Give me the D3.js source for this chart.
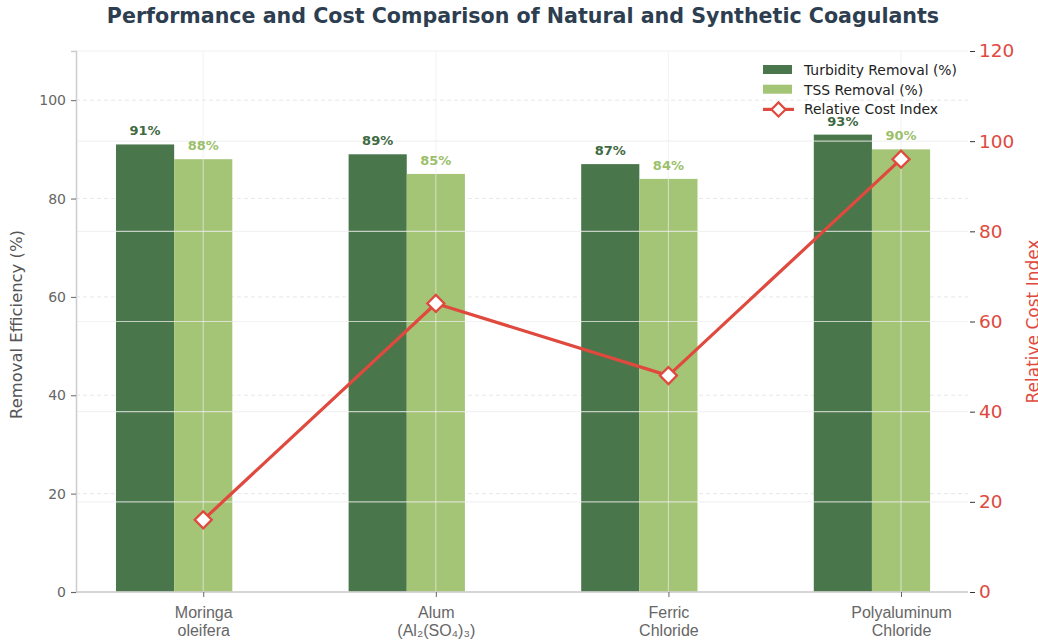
<!DOCTYPE html>
<html>
<head>
<meta charset="utf-8">
<script src="https://cdn.jsdelivr.net/npm/d3@7"></script>
<style>
  html, body { margin: 0; padding: 0; background: #fff; }
  svg { display: block; font-family: "DejaVu Sans", sans-serif; }
</style>
</head>
<body>
<svg id="chart" width="1038" height="641"></svg>
<script>
// Coagulant categories (two-line tick labels)
const categories = [
  ["Moringa", "oleifera"],
  ["Alum", "(Al\u2082(SO\u2084)\u2083)"],
  ["Ferric", "Chloride"],
  ["Polyaluminum", "Chloride"]
];
const turbidityRemoval = [91, 89, 87, 93];
const tssRemoval = [88, 85, 84, 90];
const costIndex = [16, 64, 48, 96];
const leftTicks = [0, 20, 40, 60, 80, 100];
const rightTicks = [0, 20, 40, 60, 80, 100, 120];
const seriesNames = ["Turbidity Removal (%)", "TSS Removal (%)", "Relative Cost Index"];

const W = 1038, H = 641;
const m = { left: 76, right: 70, top: 51, bottom: 49 };
const plotW = W - m.left - m.right, plotH = H - m.top - m.bottom;

const colTurb = "#4a764c", colTss = "#a4c476";
const labTurb = "#3f6a42", labTss = "#9cbf6c";
const colCost = "#e0493d";

const svg = d3.select("#chart");
const g = svg.append("g").attr("transform", `translate(${m.left},${m.top})`);

// category index -> pixel (ticks sit at the centre of the TSS bar)
const x = d3.scaleLinear().domain([-0.547, 3.288]).range([0, plotW]);
const barW = x(0.25) - x(0);
const yL = d3.scaleLinear().domain([0, 110]).range([plotH, 0]);
const yR = d3.scaleLinear().domain([0, 120]).range([plotH, 0]);
const idx = categories.map((_, i) => i);

// dashed horizontal grid of the left axis (behind bars)
g.append("g").selectAll("line").data(leftTicks).join("line")
  .attr("x1", 0).attr("x2", plotW)
  .attr("y1", d => yL(d)).attr("y2", d => yL(d))
  .attr("stroke", "#dcdcdc").attr("stroke-width", 0.8)
  .attr("stroke-dasharray", "4,3").attr("opacity", 0.8);

// bars
g.append("g").selectAll("rect").data(turbidityRemoval).join("rect")
  .attr("x", (d, i) => x(i) - 1.5 * barW).attr("width", barW)
  .attr("y", d => yL(d)).attr("height", d => plotH - yL(d))
  .attr("fill", colTurb);
g.append("g").selectAll("rect").data(tssRemoval).join("rect")
  .attr("x", (d, i) => x(i) - 0.5 * barW).attr("width", barW)
  .attr("y", d => yL(d)).attr("height", d => plotH - yL(d))
  .attr("fill", colTss);

// right-axis solid grid (drawn over bars, faint)
g.append("g").selectAll("line").data(rightTicks).join("line")
  .attr("x1", 0).attr("x2", plotW)
  .attr("y1", d => yR(d)).attr("y2", d => yR(d))
  .attr("stroke", "#eeeeee").attr("stroke-width", 1.2).attr("opacity", 0.75);
g.append("g").selectAll("line").data(idx).join("line")
  .attr("x1", d => x(d)).attr("x2", d => x(d))
  .attr("y1", 0).attr("y2", plotH)
  .attr("stroke", "#eeeeee").attr("stroke-width", 1.2).attr("opacity", 0.6);

// value labels
g.append("g").selectAll("text").data(turbidityRemoval).join("text")
  .attr("x", (d, i) => x(i) - barW).attr("y", d => yL(d) - 9)
  .attr("text-anchor", "middle").attr("font-size", 13).attr("font-weight", "bold")
  .attr("fill", labTurb).text(d => d + "%");
g.append("g").selectAll("text").data(tssRemoval).join("text")
  .attr("x", (d, i) => x(i)).attr("y", d => yL(d) - 9)
  .attr("text-anchor", "middle").attr("font-size", 13).attr("font-weight", "bold")
  .attr("fill", labTss).text(d => d + "%");

// cost line with diamond markers
const line = d3.line().x((d, i) => x(i)).y(d => yR(d));
g.append("path").datum(costIndex).attr("d", line)
  .attr("fill", "none").attr("stroke", colCost).attr("stroke-width", 3.2)
  .attr("stroke-linejoin", "round");
g.append("g").selectAll("path").data(costIndex).join("path")
  .attr("d", d3.symbol().type(d3.symbolSquare).size(145))
  .attr("transform", (d, i) => `translate(${x(i)},${yR(d)}) rotate(45)`)
  .attr("fill", "#fff").attr("stroke", colCost).attr("stroke-width", 2.3);

// axes
const axL = g.append("g").call(d3.axisLeft(yL).tickValues(leftTicks).tickSize(5).tickPadding(5));
axL.select(".domain").attr("stroke", "#cccccc").attr("stroke-width", 1.5);
axL.selectAll(".tick line").attr("stroke", "#666");
axL.selectAll(".tick text").attr("font-size", 14).attr("fill", "#666")
  .attr("font-family", "DejaVu Sans");

const axR = g.append("g").attr("transform", `translate(${plotW},0)`)
  .call(d3.axisRight(yR).tickValues(rightTicks).tickSize(5).tickPadding(6));
axR.select(".domain").remove();
axR.selectAll(".tick line").attr("stroke", "#333").attr("transform", "translate(2,0)");
axR.selectAll(".tick text").attr("font-size", 18.5).attr("fill", colCost)
  .attr("font-family", "DejaVu Sans");

const axB = g.append("g").attr("transform", `translate(0,${plotH})`)
  .call(d3.axisBottom(x).tickValues(idx).tickSize(5).tickFormat(""));
axB.select(".domain").attr("stroke", "#cccccc").attr("stroke-width", 1.5)
  .attr("d", `M0,0H${plotW}`);
axB.selectAll(".tick line").attr("stroke", "#666");
axB.selectAll(".tick").each(function(d) {
  const t = d3.select(this).append("text").attr("fill", "#666")
    .attr("font-size", 16).attr("text-anchor", "middle");
  categories[d].forEach((s, k) => t.append("tspan").attr("x", 0)
    .attr("y", 26 + k * 17.5).text(s));
});

// axis titles
svg.append("text").attr("transform", `translate(22,${m.top + plotH / 2 + 3}) rotate(-90)`)
  .attr("text-anchor", "middle").attr("font-size", 16.4).attr("fill", "#555")
  .text("Removal Efficiency (%)");
svg.append("text").attr("transform", `translate(1039,${m.top + plotH / 2}) rotate(-90)`)
  .attr("text-anchor", "middle").attr("font-size", 17).attr("fill", colCost)
  .text("Relative Cost Index");

// title
svg.append("text").attr("x", 523).attr("y", 23).attr("text-anchor", "middle")
  .attr("font-size", 20.6).attr("font-weight", "bold").attr("fill", "#2c3e50")
  .text("Performance and Cost Comparison of Natural and Synthetic Coagulants");

// legend
const lg = svg.append("g").attr("transform", "translate(763,63)");
const rows = [
  { name: seriesNames[0], kind: "bar", color: colTurb },
  { name: seriesNames[1], kind: "bar", color: colTss },
  { name: seriesNames[2], kind: "line", color: colCost }
];
rows.forEach((r, k) => {
  const row = lg.append("g").attr("transform", `translate(0,${k * 19.7})`);
  if (r.kind === "bar") {
    row.append("rect").attr("x", 0).attr("y", 2).attr("width", 29).attr("height", 9)
      .attr("fill", r.color);
  } else {
    row.append("line").attr("x1", 0).attr("x2", 31).attr("y1", 7).attr("y2", 7)
      .attr("stroke", r.color).attr("stroke-width", 3.2);
    row.append("path").attr("d", d3.symbol().type(d3.symbolSquare).size(100))
      .attr("transform", "translate(15.5,7) rotate(45)")
      .attr("fill", "#fff").attr("stroke", r.color).attr("stroke-width", 2.2);
  }
  row.append("text").attr("x", 41).attr("y", 12).attr("font-size", 13.9)
    .attr("fill", "#222").text(r.name);
});
</script>
</body>
</html>
